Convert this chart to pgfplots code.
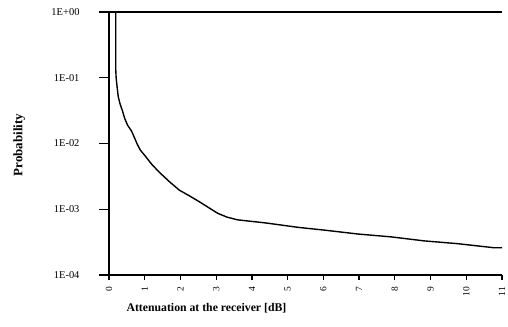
\documentclass[border=0pt]{standalone}
\usepackage{pgfplots}
\pgfplotsset{compat=1.18}
\usepackage{fontspec}
\setmainfont{Liberation Serif}
\begin{document}
\begin{tikzpicture}[x=1bp,y=1bp]
\begin{axis}[
  name=ax,
  scale only axis,
  width=393bp, height=263bp,
  ymode=log,
  xmin=0, xmax=11.0,
  ymin=1e-4, ymax=1,
  clip=false,
  axis x line*=bottom,
  axis y line*=left,
  axis line style={line width=2.4bp},
  tick align=outside,
  tick style={line width=1.3bp, black},
  major tick length=10bp,
  xtick style={/pgfplots/major tick length=5bp},
  yminorticks=false,
  xtick={0,1,2,3,4,5,6,7,8,9,10,11},
  ytick={1e-4,1e-3,1e-2,1e-1,1},
  yticklabels={1E-04,1E-03,1E-02,1E-01,1E+00},
  /pgf/number format/assume math mode=true,
  xticklabel style={rotate=90, anchor=east, inner sep=2bp, font=\fontsize{9.5}{10}\selectfont},
  yticklabel style={font=\fontsize{10.5}{11}\selectfont, xshift=-16bp},
  xlabel={\textbf{Attenuation at the receiver [dB]}},
  ylabel={\textbf{Probability}},
  xlabel style={at={(axis description cs:0.248,-0.125)}, anchor=center, font=\fontsize{11.8}{13}\selectfont},
  ylabel style={at={(axis description cs:-0.228,0.494)}, anchor=center, rotate=0, font=\fontsize{13}{14}\selectfont},
]
\addplot[black, line width=1.4bp] coordinates {(0,1) (11.0,1)};
\addplot[black, line width=1.4bp] coordinates {
(0.19,1) (0.19,0.13) (0.2,0.1) (0.23,0.07) (0.26,0.051) (0.31,0.04) (0.38,0.031) (0.44,0.024)
(0.52,0.019) (0.63,0.0155) (0.72,0.012) (0.8,0.0095) (0.88,0.0079) (1.0,0.0066) (1.2,0.0048) (1.42,0.0036) (1.7,0.0026) (1.97,0.00195)
(2.25,0.0016) (2.53,0.0013) (2.8,0.00105) (3.04,0.00087) (3.3,0.00076) (3.6,0.00069) (4.38,0.00062) (5.3,0.00053)
(6.05,0.00048) (6.97,0.00042) (7.9,0.00038) (8.83,0.00033) (9.75,0.00030)
(10.77,0.00026) (11.0,0.00026)};
\end{axis}
\pgfresetboundingbox
\path ([shift={(-109bp,-52bp)}]ax.south west) rectangle ([shift={(6bp,12bp)}]ax.north east);
\end{tikzpicture}
\end{document}
